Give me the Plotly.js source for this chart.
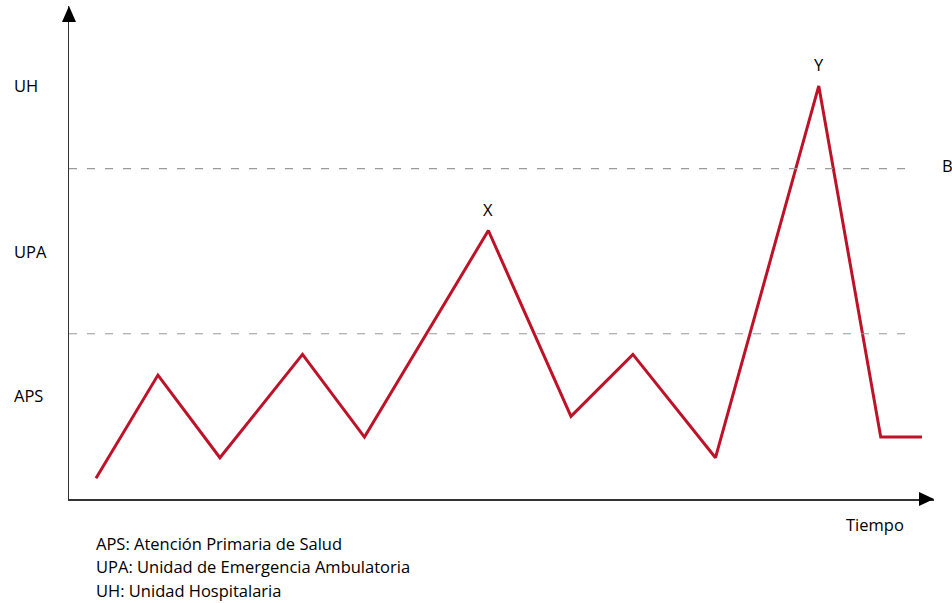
<!DOCTYPE html>
<html>
<head>
<meta charset="utf-8">
<script src="https://cdn.plot.ly/plotly-3.0.1.min.js"></script>
<style>html,body{margin:0;padding:0;background:#fff;}#chart{width:952px;height:603px;}</style>
</head>
<body>
<div id="chart"></div>
<script>
// Time steps and care level of the patient path
const timeSteps = [1, 4, 7, 11, 14, 20, 24, 27, 31, 36, 39, 41];
const careLevel = [1, 6, 2, 7, 3, 13, 4, 7, 2, 20, 3, 3];

// Level labels on the vertical axis
const levelLabels = ["UH", "UPA", "APS"];
const levelPositions = [20, 12, 5];

// Threshold lines between levels
const thresholds = [16, 8];
const thresholdLabels = ["B", ""];

// Peak markers
const peakLabels = ["X", "Y"];
const peakTimes = [20, 36];
const peakLevels = [13, 20];

// Legend notes
const notes = [
  "APS: Atención Primaria de Salud",
  "UPA: Unidad de Emergencia Ambulatoria",
  "UH: Unidad Hospitalaria"
];
const xAxisLabel = "Tiempo";

const FONT = "Open Sans, Noto Sans, sans-serif";
const TXT = "#000";
const FS = 16.5;

const trace = {
  x: timeSteps,
  y: careLevel,
  type: "scatter",
  mode: "lines",
  line: { color: "#be1228", width: 3 },
  hoverinfo: "skip"
};

const shapes = [];
thresholds.forEach(t => {
  shapes.push({
    type: "line", xref: "paper", yref: "y",
    x0: 0, x1: 0.976, y0: t, y1: t,
    line: { color: "#9a9a9a", width: 1.2, dash: "8px,10px" }
  });
});
// Axis arrowheads
shapes.push({
  type: "path", xref: "paper", yref: "paper",
  xsizemode: "pixel", ysizemode: "pixel", xanchor: 0, yanchor: 1,
  path: "M0,0 L-7,-16 L7,-16 Z",
  fillcolor: "#000", line: { width: 0 }
});
shapes.push({
  type: "path", xref: "paper", yref: "paper",
  xsizemode: "pixel", ysizemode: "pixel", xanchor: 1, yanchor: 0,
  path: "M0,0 L-15,7 L-15,-7 Z",
  fillcolor: "#000", line: { width: 0 }
});

const annotations = [];
levelLabels.forEach((lab, i) => {
  annotations.push({
    text: lab, xref: "paper", yref: "y", x: -0.066, y: levelPositions[i],
    xanchor: "left", yanchor: "middle", showarrow: false,
    font: { family: FONT, size: FS, color: TXT }
  });
});
thresholds.forEach((t, i) => {
  if (!thresholdLabels[i]) return;
  annotations.push({
    text: thresholdLabels[i], xref: "paper", yref: "y", x: 1.007, y: t,
    xanchor: "left", yanchor: "middle", yshift: 3, showarrow: false,
    font: { family: FONT, size: FS, color: TXT }
  });
});
peakLabels.forEach((lab, i) => {
  annotations.push({
    text: lab, xref: "x", yref: "y", x: peakTimes[i], y: peakLevels[i],
    xanchor: "center", yanchor: "middle", yshift: 21, showarrow: false,
    font: { family: FONT, size: FS, color: TXT }
  });
});
annotations.push({
  text: xAxisLabel, xref: "paper", yref: "paper", x: 0.968, y: -0.0527,
  xanchor: "right", yanchor: "middle", showarrow: false,
  font: { family: FONT, size: FS, color: TXT }
});
const noteY = [-0.0893, -0.1379, -0.1846];
notes.forEach((n, i) => {
  annotations.push({
    text: n, xref: "paper", yref: "paper", x: 0.029, y: noteY[i],
    xanchor: "left", yanchor: "middle", showarrow: false,
    font: { family: FONT, size: FS, color: TXT }
  });
});

const layout = {
  width: 952, height: 603,
  margin: { l: 69, r: 18, t: 6, b: 104, pad: 0 },
  paper_bgcolor: "#fff", plot_bgcolor: "#fff",
  showlegend: false,
  xaxis: {
    range: [-0.307, 41.58], showgrid: false, zeroline: false,
    showline: true, linecolor: "#333", linewidth: 1.5,
    showticklabels: false, ticks: "", fixedrange: true
  },
  yaxis: {
    range: [0, 23.87], showgrid: false, zeroline: false,
    showline: true, linecolor: "#333", linewidth: 1.5,
    showticklabels: false, ticks: "", fixedrange: true
  },
  shapes: shapes,
  annotations: annotations
};

Plotly.newPlot("chart", [trace], layout, { displayModeBar: false, staticPlot: true });
</script>
</body>
</html>
